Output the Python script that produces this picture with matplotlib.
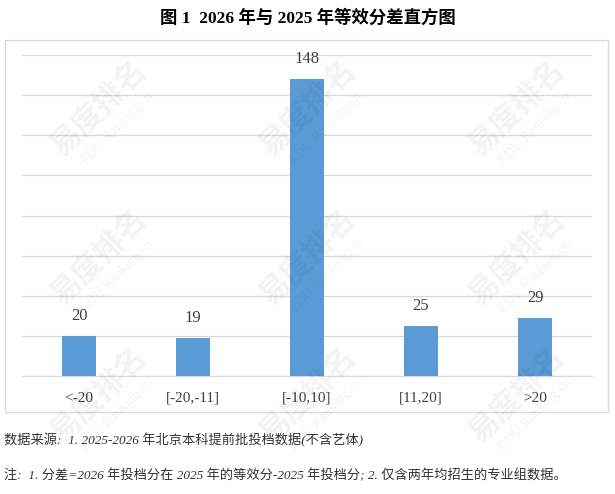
import matplotlib
matplotlib.use("Agg")
import matplotlib.pyplot as plt
from matplotlib.patches import Rectangle

# data
categories = ["<-20", "[-20,-11]", "[-10,10]", "[11,20]", ">20"]
counts = [20, 19, 148, 25, 29]

title = "图 1  2026 年与 2025 年等效分差直方图"
note_source = "数据来源:  1. 2025-2026 年北京本科提前批投档数据(不含艺体)"
note_def = "注:  1. 分差=2026 年投档分在 2025 年的等效分-2025 年投档分; 2. 仅含两年均招生的专业组数据。"

serif = ["Liberation Serif", "Noto Sans CJK SC"]

W, H = 615, 494
fig = plt.figure(figsize=(W / 100, H / 100), dpi=100)

# outer chart frame
fig.patches.append(Rectangle((5 / W, 1 - 412 / H), 603 / W, 372 / H,
                             transform=fig.transFigure, fill=False,
                             edgecolor="#d9d9d9", linewidth=1.0, zorder=0))

# faint watermarks, kept inside the picture
for wx, wy in [(0.16, 0.78), (0.50, 0.78), (0.84, 0.78),
               (0.16, 0.48), (0.50, 0.48), (0.84, 0.48),
               (0.16, 0.20), (0.50, 0.20), (0.84, 0.20)]:
    fig.text(wx, wy, "易度排名", rotation=45, fontsize=22, color="#000000",
             alpha=0.05, ha="center", va="center", family=["Noto Sans CJK SC"],
             fontweight="bold", zorder=0)
    fig.text(wx + 0.03, wy - 0.04, "EDU Ranking.cn", rotation=45, fontsize=10,
             color="#000000", alpha=0.05, ha="center", va="center",
             family=serif, zorder=0)

ax = fig.add_axes([22 / W, 1 - 376 / H, 570 / W, 321 / H])
x = range(len(categories))
bars = ax.bar(x, counts, width=0.29, color="#5b9bd5", zorder=3)

ax.set_xlim(-0.5, len(categories) - 0.5)
ax.set_ylim(0, 160)
ax.set_yticks(range(0, 161, 20))
ax.yaxis.grid(True, color="#d9d9d9", linewidth=1.0, zorder=0)
ax.tick_params(axis="y", left=False, labelleft=False)
ax.tick_params(axis="x", bottom=False, pad=8)
ax.set_xticks(list(x))
ax.set_xticklabels(categories, fontsize=11, color="#404040", family=serif)
for s in ["top", "right", "left"]:
    ax.spines[s].set_visible(False)
ax.spines["bottom"].set_color("#d9d9d9")
ax.set_facecolor("none")

for b, v in zip(bars, counts):
    ax.text(b.get_x() + b.get_width() / 2, v + 6, str(v), ha="center",
            va="bottom", fontsize=12, color="#404040", family=serif)

fig.text(0.5, 1 - 18 / H, title, ha="center", va="center", fontsize=12.5,
         fontweight="bold", color="#000000", family=serif)
fig.text(4 / W, 1 - 440 / H, note_source, ha="left", va="center", fontsize=9.5,
         style="italic", color="#333333", family=serif)
fig.text(4 / W, 1 - 476 / H, note_def, ha="left", va="center", fontsize=9.5,
         style="italic", color="#333333", family=serif)

fig.savefig("out.png", dpi=100)
